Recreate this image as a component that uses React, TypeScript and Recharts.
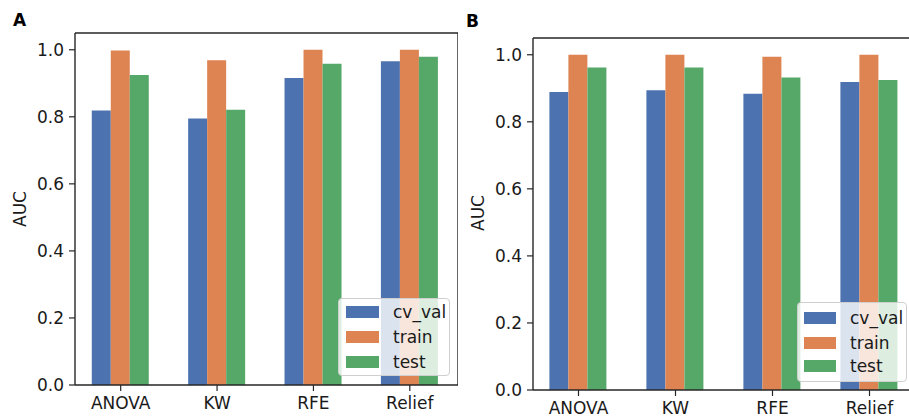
import React from 'react';
import { BarChart, Bar, XAxis, YAxis, Legend, Label, ReferenceLine } from 'recharts';

const categories = ['ANOVA', 'KW', 'RFE', 'Relief'];
const seriesNames = ['cv_val', 'train', 'test'];
const seriesColors = ['#4C72B0', '#DD8452', '#55A868'];

const cvValA = [0.819, 0.795, 0.916, 0.966];
const trainA = [0.998, 0.969, 1.0, 1.0];
const testA = [0.925, 0.821, 0.958, 0.979];

const cvValB = [0.889, 0.894, 0.884, 0.919];
const trainB = [1.0, 1.0, 0.994, 1.0];
const testB = [0.962, 0.962, 0.932, 0.925];

const yTicks = [0, 0.2, 0.4, 0.6, 0.8, 1.0];
const yMax = 1.05;

const FONT = '"DejaVu Sans", sans-serif';
const TXT = '#1a1a1a';
const FRAME = '#262626';

function buildRows(cv: number[], tr: number[], te: number[]) {
  return categories.map((c, i) => ({ name: c, cv_val: cv[i], train: tr[i], test: te[i] }));
}

type PanelProps = {
  letter: string;
  rows: any[];
  left: number;
  width: number;
  top: number;
  xHeight: number;
  yWidth: number;
  padL: number;
  padR: number;
  legend: { left: number; top: number; w: number; h: number; sw: number; sx: number; tx: number; rows: number[] };
  letterPos: { x: number; y: number };
  aucPos: { x: number; y: number };
};

function LegendBox({ cfg }: { cfg: PanelProps['legend'] }) {
  return (
    <div
      style={{
        position: 'relative',
        width: cfg.w,
        height: cfg.h,
        boxSizing: 'border-box',
        border: '1px solid #cfcfcf',
        borderRadius: 4,
        background: 'rgba(255,255,255,0.8)',
        fontFamily: FONT,
        fontSize: 17,
        color: TXT,
      }}
    >
      {seriesNames.map((n, i) => (
        <React.Fragment key={n}>
          <div
            style={{
              position: 'absolute',
              left: cfg.sx,
              top: cfg.rows[i] - 6,
              width: cfg.sw,
              height: 12,
              background: seriesColors[i],
            }}
          />
          <div
            style={{
              position: 'absolute',
              left: cfg.tx,
              top: cfg.rows[i] - 11,
              height: 22,
              lineHeight: '22px',
              whiteSpace: 'nowrap',
            }}
          >
            {n}
          </div>
        </React.Fragment>
      ))}
    </div>
  );
}

function Panel(p: PanelProps) {
  const lastCat = categories[categories.length - 1];
  return (
    <div style={{ position: 'absolute', left: p.left, top: 0, width: p.width, height: 417 }}>
      <div
        style={{
          position: 'absolute',
          left: p.letterPos.x,
          top: p.letterPos.y,
          fontFamily: FONT,
          fontWeight: 'bold',
          fontSize: 17,
          lineHeight: '17px',
          color: '#000',
        }}
      >
        {p.letter}
      </div>
      <BarChart
        width={p.width}
        height={417}
        data={p.rows}
        margin={{ top: p.top, right: 0, left: 0, bottom: 0 }}
        barCategoryGap="20%"
        barGap={0}
      >
        <XAxis
          dataKey="name"
          height={p.xHeight}
          padding={{ left: p.padL, right: p.padR }}
          tickSize={6}
          tickMargin={6}
          tick={{ fill: TXT, fontSize: 17, fontFamily: FONT }}
          tickLine={{ stroke: FRAME, strokeWidth: 1.2 }}
          axisLine={{ stroke: FRAME, strokeWidth: 1.4 }}
        />
        <YAxis
          width={p.yWidth}
          domain={[0, yMax]}
          ticks={yTicks}
          allowDataOverflow
          tickFormatter={(v: number) => v.toFixed(1)}
          tickSize={6}
          tickMargin={5}
          tick={{ fill: TXT, fontSize: 17, fontFamily: FONT }}
          tickLine={{ stroke: FRAME, strokeWidth: 1.2 }}
          axisLine={{ stroke: FRAME, strokeWidth: 1.4 }}
        >
          <Label
            content={() => (
              <text
                x={p.aucPos.x}
                y={p.aucPos.y}
                transform={`rotate(-90 ${p.aucPos.x} ${p.aucPos.y})`}
                textAnchor="middle"
                dominantBaseline="central"
                fontSize={17}
                fontFamily={FONT}
                fill={TXT}
              >
                AUC
              </text>
            )}
          />
        </YAxis>
        {seriesNames.map((n, i) => (
          <Bar key={n} dataKey={n} fill={seriesColors[i]} isAnimationActive={false} />
        ))}
        <ReferenceLine y={yMax} stroke={FRAME} strokeWidth={1.4} ifOverflow="visible" />
        <ReferenceLine x={lastCat} position="end" stroke={FRAME} strokeWidth={1.4} ifOverflow="visible" />
        <Legend
          layout="vertical"
          align="center"
          verticalAlign="middle"
          wrapperStyle={{
            position: 'absolute',
            left: p.legend.left,
            top: p.legend.top,
            width: p.legend.w,
            height: p.legend.h,
            margin: 0,
            padding: 0,
          }}
          content={() => <LegendBox cfg={p.legend} />}
        />
      </BarChart>
    </div>
  );
}

export default function App() {
  const rowsA = buildRows(cvValA, trainA, testA);
  const rowsB = buildRows(cvValB, trainB, testB);
  return (
    <div
      style={{
        position: 'absolute',
        left: 0,
        top: 0,
        width: 909,
        height: 417,
        overflow: 'hidden',
        background: '#fff',
      }}
    >
      <Panel
        letter="A"
        rows={rowsA}
        left={0}
        width={458}
        top={33}
        xHeight={32}
        yWidth={75}
        padL={-2.5}
        padR={0}
        legend={{ left: 338, top: 298, w: 112, h: 78, sw: 33, sx: 7, tx: 54, rows: [13, 38, 63] }}
        letterPos={{ x: 13, y: 12 }}
        aucPos={{ x: 20, y: 209 }}
      />
      <Panel
        letter="B"
        rows={rowsB}
        left={450}
        width={468}
        top={38}
        xHeight={27}
        yWidth={83}
        padL={-3}
        padR={0}
        legend={{ left: 347, top: 302, w: 110, h: 80, sw: 32, sx: 6, tx: 52, rows: [15, 40, 63] }}
        letterPos={{ x: 16, y: 13 }}
        aucPos={{ x: 28, y: 213 }}
      />
    </div>
  );
}
